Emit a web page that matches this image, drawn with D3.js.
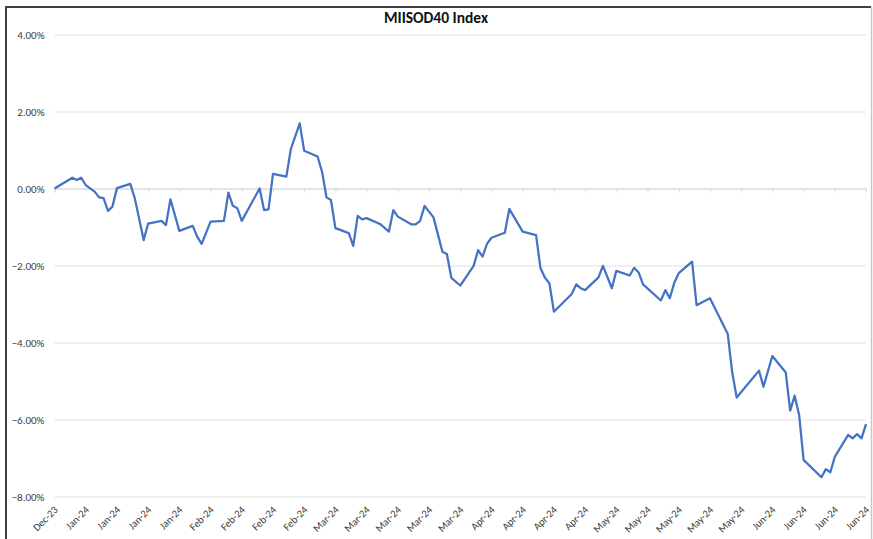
<!DOCTYPE html>
<html>
<head>
<meta charset="utf-8">
<script src="https://cdn.jsdelivr.net/npm/d3@7"></script>
<style>
  body { margin: 0; background: #fff; }
  svg { display: block; font-family: Calibri, Carlito, 'Liberation Sans', Arial, sans-serif; }
</style>
</head>
<body>
<div class="chart-container"></div>
<script>
// index level vs start, in percent
const dates = [
  '2023-12-29', '2024-01-02', '2024-01-03', '2024-01-04', '2024-01-05', '2024-01-07', '2024-01-08',
  '2024-01-09', '2024-01-10', '2024-01-11', '2024-01-12', '2024-01-15', '2024-01-16', '2024-01-18',
  '2024-01-19', '2024-01-22', '2024-01-23', '2024-01-24', '2024-01-26', '2024-01-29', '2024-01-30',
  '2024-01-31', '2024-02-02', '2024-02-05', '2024-02-06', '2024-02-07', '2024-02-08', '2024-02-09',
  '2024-02-13', '2024-02-14', '2024-02-15', '2024-02-16', '2024-02-19', '2024-02-20', '2024-02-22',
  '2024-02-23', '2024-02-26', '2024-02-27', '2024-02-28', '2024-02-29', '2024-03-01', '2024-03-04',
  '2024-03-05', '2024-03-06', '2024-03-07', '2024-03-08', '2024-03-11', '2024-03-13', '2024-03-14',
  '2024-03-15', '2024-03-18', '2024-03-19', '2024-03-20', '2024-03-21', '2024-03-23', '2024-03-25',
  '2024-03-26', '2024-03-27', '2024-03-29', '2024-04-01', '2024-04-02', '2024-04-03', '2024-04-04',
  '2024-04-05', '2024-04-08', '2024-04-09', '2024-04-12', '2024-04-15', '2024-04-16', '2024-04-17',
  '2024-04-18', '2024-04-19', '2024-04-23', '2024-04-24', '2024-04-25', '2024-04-26', '2024-04-29',
  '2024-04-30', '2024-05-02', '2024-05-03', '2024-05-06', '2024-05-07', '2024-05-08', '2024-05-09',
  '2024-05-13', '2024-05-14', '2024-05-15', '2024-05-16', '2024-05-17', '2024-05-20', '2024-05-21',
  '2024-05-24', '2024-05-28', '2024-05-29', '2024-05-30', '2024-06-04', '2024-06-05', '2024-06-07',
  '2024-06-10', '2024-06-11', '2024-06-12', '2024-06-13', '2024-06-14', '2024-06-18', '2024-06-19',
  '2024-06-20', '2024-06-21', '2024-06-24', '2024-06-25', '2024-06-26', '2024-06-27', '2024-06-28'
];
const values = [
  0.00, 0.28, 0.22, 0.28, 0.09, -0.08, -0.23,
  -0.25, -0.58, -0.47, 0.01, 0.12, -0.25, -1.34,
  -0.91, -0.84, -0.95, -0.28, -1.10, -0.97, -1.25,
  -1.44, -0.86, -0.84, -0.11, -0.45, -0.51, -0.84,
  0.00, -0.56, -0.54, 0.38, 0.31, 1.02, 1.69,
  0.98, 0.83, 0.44, -0.23, -0.30, -1.03, -1.16,
  -1.49, -0.71, -0.80, -0.77, -0.92, -1.12, -0.56,
  -0.73, -0.93, -0.93, -0.84, -0.45, -0.75, -1.64,
  -1.70, -2.32, -2.52, -2.01, -1.60, -1.77, -1.44,
  -1.28, -1.15, -0.53, -1.12, -1.21, -2.07, -2.32,
  -2.46, -3.20, -2.74, -2.49, -2.59, -2.64, -2.31,
  -2.01, -2.59, -2.14, -2.26, -2.06, -2.18, -2.49,
  -2.91, -2.64, -2.85, -2.45, -2.20, -1.90, -3.03,
  -2.85, -3.78, -4.78, -5.43, -4.73, -5.15, -4.35,
  -4.78, -5.77, -5.38, -5.88, -7.05, -7.50, -7.29,
  -7.37, -6.97, -6.40, -6.49, -6.38, -6.49, -6.12
];
const yTicks = [4, 2, 0, -2, -4, -6, -8];
const xStart = '2023-12-29';
const xEnd = '2024-06-28';
const title = 'MIISOD40 Index';

const W = 873, H = 539;
const margin = { t: 34.5, r: 7, b: 42.5, l: 54.5 };
const innerWidth = W - margin.l - margin.r;
const innerHeight = H - margin.t - margin.b;

const parse = d3.timeParse('%Y-%m-%d');
const data = dates.map((d, i) => ({ date: parse(d), value: values[i] }));

const x = d3.scaleTime().domain([parse(xStart), parse(xEnd)]).range([0, innerWidth]);
const y = d3.scaleLinear().domain([-8, 4]).range([innerHeight, 0]);

// weekly ticks (Fridays) like the Excel date axis
const tickDates = d3.timeDay.range(parse(xStart), d3.timeDay.offset(parse(xEnd), 1), 7);

const svg = d3.select('.chart-container')
  .append('svg')
  .attr('width', W)
  .attr('height', H);

// chart border
svg.append('path')
  .attr('d', `M6,${H} V7 H871`)
  .attr('fill', 'none')
  .attr('stroke', '#3f3f3f')
  .attr('stroke-width', 2);
svg.append('line')
  .attr('x1', 871.5).attr('x2', 871.5).attr('y1', 7).attr('y2', H)
  .attr('stroke', '#c8c8c8')
  .attr('stroke-width', 1.5);

svg.append('text')
  .attr('x', 436)
  .attr('y', 23)
  .attr('text-anchor', 'middle')
  .style('font-size', '15.5px')
  .style('font-weight', 'bold')
  .style('fill', '#111')
  .text(title);

const plot = svg.append('g')
  .attr('class', 'plot')
  .attr('transform', `translate(${margin.l}, ${margin.t})`);

// gridlines + y labels
const axisY = d3.axisLeft(y)
  .tickValues(yTicks)
  .tickSize(-innerWidth)
  .tickFormat(d => d3.format('.2f')(d) + '%');

plot.append('g')
  .attr('class', 'axis axis-y')
  .call(axisY)
  .call(g => g.select('.domain').remove())
  .call(g => g.selectAll('.tick line').attr('stroke', '#e0e0e0').attr('stroke-width', 1))
  .call(g => g.selectAll('.tick text')
    .attr('x', -10)
    .style('font-size', '11px')
    .style('font-family', 'Calibri, Carlito, Liberation Sans, Arial, sans-serif')
    .style('fill', '#404040'));

// category axis crosses at 0%: short tick marks below the zero line
plot.append('g')
  .attr('class', 'axis axis-x-ticks')
  .attr('transform', `translate(0, ${y(0)})`)
  .call(d3.axisBottom(x).tickValues(tickDates).tickSize(4).tickFormat(''))
  .call(g => g.select('.domain').attr('stroke', '#d9d9d9'))
  .call(g => g.selectAll('.tick line').attr('stroke', '#d9d9d9'));

// labels sit low, under the -8% line
const axisX = d3.axisBottom(x)
  .tickValues(tickDates)
  .tickSize(0)
  .tickFormat(d3.timeFormat('%b-%y'));

plot.append('g')
  .attr('class', 'axis axis-x')
  .attr('transform', `translate(0, ${innerHeight})`)
  .call(axisX)
  .call(g => g.select('.domain').remove())
  .selectAll('text')
  .attr('y', 0)
  .attr('x', 0)
  .attr('dy', 0)
  .attr('transform', 'translate(3.5, 14) rotate(-45)')
  .style('text-anchor', 'end')
  .style('font-size', '10.5px')
  .style('font-family', 'Calibri, Carlito, Liberation Sans, Arial, sans-serif')
  .style('fill', '#404040');

const line = d3.line()
  .x(d => x(d.date))
  .y(d => y(d.value));

plot.append('path')
  .datum(data)
  .attr('fill', 'none')
  .attr('stroke', '#4472C4')
  .attr('stroke-width', 2.25)
  .attr('stroke-linejoin', 'round')
  .attr('d', line);
</script>
</body>
</html>
